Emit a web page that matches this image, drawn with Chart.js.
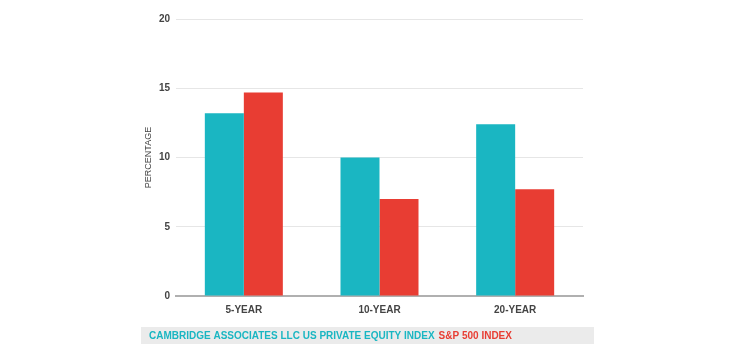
<!DOCTYPE html>
<html>
<head>
<meta charset="utf-8">
<script src="https://cdn.jsdelivr.net/npm/chart.js@4"></script>
<style>
  body { margin: 0; background: #fff; }
</style>
</head>
<body>
<canvas id="grafica" width="750" height="350"></canvas>
<script>
const categories = ["5-YEAR", "10-YEAR", "20-YEAR"];
const peIndex = [13.2, 10.0, 12.4];
const spIndex = [14.7, 7.0, 7.7];
const seriesNames = ["CAMBRIDGE ASSOCIATES LLC US PRIVATE EQUITY INDEX", "S&P 500 INDEX"];
const seriesColors = ["#1ab6c2", "#e83d33"];

const fuente = "'Liberation Sans', Arial, sans-serif";

// leyenda propia: franja gris con los dos textos de color
const leyenda = {
  id: "leyenda",
  afterDraw(chart) {
    const ctx = chart.ctx;
    ctx.save();
    ctx.fillStyle = "#ebebeb";
    ctx.fillRect(141, 327, 453, 17);
    ctx.font = "bold 10px " + fuente;
    ctx.textBaseline = "middle";
    let x = 149;
    seriesNames.forEach((name, i) => {
      ctx.fillStyle = seriesColors[i];
      ctx.fillText(name, x, 336);
      x += ctx.measureText(name).width + 4;
    });
    ctx.restore();
  },
};

new Chart(document.getElementById("grafica"), {
  type: "bar",
  data: {
    labels: categories,
    datasets: [
      {
        label: seriesNames[0],
        data: peIndex,
        backgroundColor: seriesColors[0],
        categoryPercentage: 0.575,
        barPercentage: 1,
      },
      {
        label: seriesNames[1],
        data: spIndex,
        backgroundColor: seriesColors[1],
        categoryPercentage: 0.575,
        barPercentage: 1,
      },
    ],
  },
  options: {
    responsive: false,
    animation: false,
    layout: {
      padding: { left: 140, right: 167, top: 19, bottom: 34 },
    },
    scales: {
      x: {
        grid: { display: false },
        border: { color: "#b0b0b0", width: 2 },
        ticks: {
          color: "#444",
          padding: 0,
          font: { family: fuente, size: 10, weight: "bold" },
        },
      },
      y: {
        min: 0,
        max: 20,
        ticks: {
          stepSize: 5,
          color: "#444",
          padding: 6,
          font: { family: fuente, size: 10, weight: "bold" },
        },
        grid: { color: "#e6e6e6", drawTicks: false },
        border: { display: false },
        title: {
          display: true,
          text: "PERCENTAGE",
          color: "#444",
          padding: 3,
          font: { family: fuente, size: 9, weight: "normal" },
        },
        afterFit(scale) {
          scale.width = 36;
        },
      },
    },
    plugins: {
      legend: { display: false },
      tooltip: { enabled: false },
    },
  },
  plugins: [leyenda],
});
</script>
</body>
</html>
